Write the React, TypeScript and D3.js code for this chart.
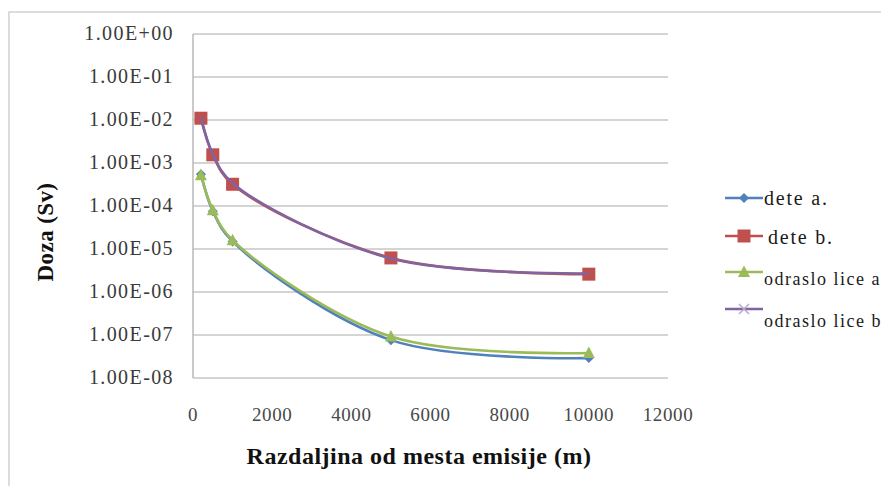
import React, { useRef, useEffect } from "react";
import * as d3 from "d3";

// distances from the emission point (m)
const distances = [200, 500, 1000, 5000, 10000];

// doses (Sv) per group
const deteA = [5.5e-4, 7.6e-5, 1.5e-5, 7.6e-8, 2.9e-8];
const deteB = [1.1e-2, 1.55e-3, 3.2e-4, 6.2e-6, 2.6e-6];
const odrasloA = [5.2e-4, 8.0e-5, 1.6e-5, 9.2e-8, 3.8e-8];
const odrasloB = [1.15e-2, 1.6e-3, 3.4e-4, 6.0e-6, 2.7e-6];

const seriesNames = ["dete a.", "dete b.", "odraslo lice a", "odraslo lice b"];
const seriesColors = ["#4F81BD", "#C0504D", "#9BBB59", "#8064A2"];
const markerKinds = ["diamond", "square", "triangle", "cross"];

const xTicks = [0, 2000, 4000, 6000, 8000, 10000, 12000];
const yTicks = [1, 1e-1, 1e-2, 1e-3, 1e-4, 1e-5, 1e-6, 1e-7, 1e-8];

const xTitle = "Razdaljina od mesta emisije (m)";
const yTitle = "Doza (Sv)";

const W = 881;
const H = 486;
const SERIF = "Liberation Serif";

function sci(v: number) {
    const e = Math.round(Math.log10(v));
    return `1.00E${e < 0 ? "-" : "+"}${String(Math.abs(e)).padStart(2, "0")}`;
}

const App = () => {
    const ref = useRef<SVGSVGElement>(null);

    useEffect(() => {
        const svg = d3.select(ref.current);
        svg.selectAll("*").remove();

        const plot = { left: 193, right: 668, top: 34, bottom: 378 };
        const x = d3.scaleLinear().domain([0, 12000]).range([plot.left, plot.right]);
        const y = d3.scaleLog().domain([1e-8, 1]).range([plot.bottom, plot.top]);

        // chart frame
        svg.append("rect")
            .attr("x", 10)
            .attr("y", 13)
            .attr("width", W + 20)
            .attr("height", H + 20)
            .attr("fill", "none")
            .attr("stroke", "#e8e8e8")
            .attr("stroke-width", 3);
        svg.append("rect")
            .attr("x", 9)
            .attr("y", 12)
            .attr("width", W + 20)
            .attr("height", H + 20)
            .attr("fill", "#fff")
            .attr("stroke", "#d4d4d4")
            .attr("stroke-width", 1.5);

        // gridlines
        svg.append("g")
            .selectAll("line")
            .data(yTicks)
            .join("line")
            .attr("x1", plot.left)
            .attr("x2", plot.right)
            .attr("y1", (d) => y(d))
            .attr("y2", (d) => y(d))
            .attr("stroke", "#c6c6c6")
            .attr("stroke-width", 1.5);

        svg.append("line")
            .attr("x1", plot.left)
            .attr("x2", plot.left)
            .attr("y1", plot.top)
            .attr("y2", plot.bottom)
            .attr("stroke", "#b8b8b8")
            .attr("stroke-width", 1.5);

        // y tick labels
        svg.append("g")
            .selectAll("text")
            .data(yTicks)
            .join("text")
            .attr("x", 174)
            .attr("y", (d) => y(d) + 6)
            .attr("text-anchor", "end")
            .attr("font-family", SERIF)
            .attr("font-size", 20)
            .attr("letter-spacing", 1.4)
            .attr("fill", "#3a3a3a")
            .text((d) => sci(d));

        // x tick labels
        svg.append("g")
            .selectAll("text")
            .data(xTicks)
            .join("text")
            .attr("x", (d) => x(d))
            .attr("y", 421)
            .attr("text-anchor", "middle")
            .attr("font-family", SERIF)
            .attr("font-size", 19)
            .attr("letter-spacing", 0.6)
            .attr("fill", "#484848")
            .text((d) => d);

        // axis titles
        svg.append("text")
            .attr("x", 419)
            .attr("y", 464)
            .attr("text-anchor", "middle")
            .attr("font-family", SERIF)
            .attr("font-weight", "bold")
            .attr("font-size", 24)
            .attr("letter-spacing", 0.5)
            .attr("fill", "#111")
            .text(xTitle);

        svg.append("text")
            .attr("transform", "translate(53,232) rotate(-90)")
            .attr("text-anchor", "middle")
            .attr("font-family", SERIF)
            .attr("font-weight", "bold")
            .attr("font-size", 23)
            .attr("letter-spacing", 0.4)
            .attr("fill", "#111")
            .text(yTitle);

        const allSeries = [deteA, deteB, odrasloA, odrasloB];

        const line = d3
            .line<[number, number]>()
            .x((d) => x(d[0]))
            .y((d) => y(d[1]))
            .curve(d3.curveCatmullRom.alpha(0.5));

        function drawMarker(g: any, kind: string, color: string, cx: number, cy: number) {
            if (kind === "diamond") {
                g.append("path")
                    .attr("d", `M${cx},${cy - 5}L${cx + 5},${cy}L${cx},${cy + 5}L${cx - 5},${cy}Z`)
                    .attr("fill", color);
            } else if (kind === "square") {
                g.append("rect")
                    .attr("x", cx - 6.5)
                    .attr("y", cy - 6.5)
                    .attr("width", 13)
                    .attr("height", 13)
                    .attr("fill", color);
            } else if (kind === "triangle") {
                g.append("path")
                    .attr("d", `M${cx},${cy - 6.5}L${cx + 6},${cy + 5}L${cx - 6},${cy + 5}Z`)
                    .attr("fill", color);
            } else {
                g.append("path")
                    .attr("d", `M${cx - 5},${cy - 5}L${cx + 5},${cy + 5}M${cx + 5},${cy - 5}L${cx - 5},${cy + 5}`)
                    .attr("stroke", "#b9a9d0")
                    .attr("stroke-width", 1.5);
            }
        }

        allSeries.forEach((vals, i) => {
            const pts: [number, number][] = distances.map((d, j) => [d, vals[j]]);
            const g = svg.append("g");
            g.append("path")
                .attr("d", line(pts))
                .attr("fill", "none")
                .attr("stroke", seriesColors[i])
                .attr("stroke-width", 2.6);
            // the light crosses of the last series disappear under the squares
            if (markerKinds[i] !== "cross") {
                pts.forEach((p) => drawMarker(g, markerKinds[i], seriesColors[i], x(p[0]), y(p[1])));
            }
        });

        // legend
        const legendLineY = [198, 236, 272, 309];
        const legendTextY = [205, 244, 285, 327];
        const legendFont = [20, 20, 18, 18];
        const legendSpacing = [1.8, 1.8, 1.5, 1.5];
        const legend = svg.append("g");
        seriesNames.forEach((name, i) => {
            legend.append("line")
                .attr("x1", 725)
                .attr("x2", 763)
                .attr("y1", legendLineY[i])
                .attr("y2", legendLineY[i])
                .attr("stroke", seriesColors[i])
                .attr("stroke-width", 2.6);
            drawMarker(legend, markerKinds[i], seriesColors[i], 744, legendLineY[i]);
            legend.append("text")
                .attr("x", i === 1 ? 768 : 764)
                .attr("y", legendTextY[i])
                .attr("font-family", SERIF)
                .attr("font-size", legendFont[i])
                .attr("letter-spacing", legendSpacing[i])
                .attr("fill", "#1a1a1a")
                .text(name);
        });
    });

    return (
        <svg
            ref={ref}
            width={W}
            height={H}
            style={{ position: "absolute", left: 0, top: 0, background: "#fff" }}
        />
    );
};

export default App;
